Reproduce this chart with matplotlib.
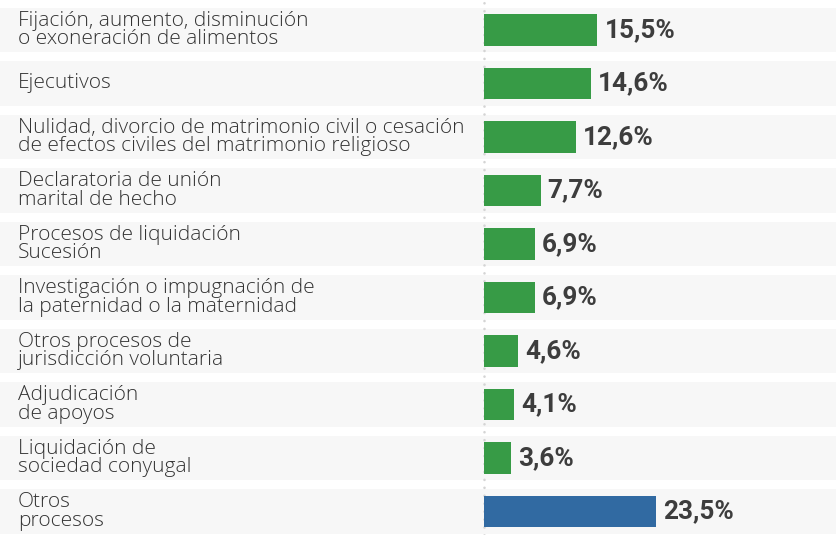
import matplotlib.pyplot as plt
from matplotlib import transforms

categories = [
    'Fijación, aumento, disminución\no exoneración de alimentos',
    'Ejecutivos',
    'Nulidad, divorcio de matrimonio civil o cesación\nde efectos civiles del matrimonio religioso',
    'Declaratoria de unión\nmarital de hecho',
    'Procesos de liquidación\nSucesión',
    'Investigación o impugnación de\nla paternidad o la maternidad',
    'Otros procesos de\njurisdicción voluntaria',
    'Adjudicación\nde apoyos',
    'Liquidación de\nsociedad conyugal',
    'Otros\nprocesos',
]
values = [15.5, 14.6, 12.6, 7.7, 6.9, 6.9, 4.6, 4.1, 3.6, 23.5]
value_labels = ['15,5%', '14,6%', '12,6%', '7,7%', '6,9%', '6,9%', '4,6%', '4,1%', '3,6%', '23,5%']

green = '#379b46'
blue = '#316aa2'
colors = [green] * 9 + [blue]

plt.rcParams['font.family'] = ['Roboto', 'DejaVu Sans']

fig = plt.figure(figsize=(8.37, 5.35), dpi=100)
ax = fig.add_axes([0, 0, 1, 1])

# pixel layout: zero line at x=484.5, 7.29 px per percent, rows 53.5 px apart
px_per = 7.29
x0 = 484.5
xmin = -x0 / px_per
xmax = (837 - x0) / px_per
ax.set_xlim(xmin, xmax)
ax.set_ylim((535 - 30) / 53.5, -30 / 53.5)

rows = list(range(len(values)))

# grey background bands
ax.barh(rows, [xmax - xmin] * len(rows), left=xmin, height=0.84,
        color='#f7f7f7', zorder=0)

# dotted zero line
ax.axvline(0, color='#d4d4d4', linewidth=1.9,
           linestyle=(0, (0.01, 3.0)), dash_capstyle='round', zorder=1)

ax.barh(rows, values, height=0.58, color=colors, zorder=2)

trans = transforms.blended_transform_factory(ax.transAxes, ax.transData)
for i, cat in enumerate(categories):
    ax.text(0.0215, i, cat, transform=trans, ha='left', va='center',
            fontsize=15, color='#333333', linespacing=0.88,
            family=['Open Sans', 'DejaVu Sans'], fontweight='light')
    ax.annotate(value_labels[i], (values[i], i), xytext=(5, 0),
                textcoords='offset points', ha='left', va='center',
                fontsize=18.8, fontweight='bold', color='#3d3d3d')

ax.axis('off')
fig.savefig('out.png', dpi=100)
